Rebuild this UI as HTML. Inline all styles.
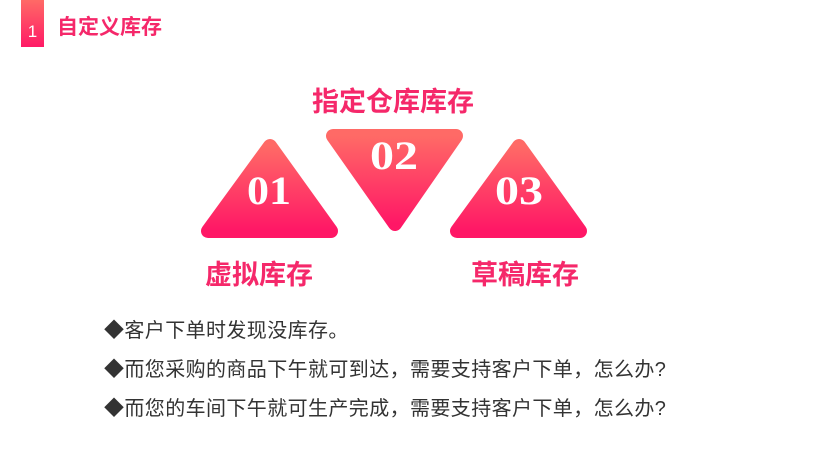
<!DOCTYPE html>
<html><head><meta charset="utf-8"><style>
body{margin:0;width:820px;height:461px;background:#fff;position:relative;overflow:hidden;font-family:"Liberation Sans","Noto Sans CJK SC",sans-serif}
.bar{position:absolute;left:21px;top:0;width:23px;height:47px;background:linear-gradient(#ff6a66,#ff1a66);color:#fff;font-size:17px;text-align:center;line-height:64px}
.t{position:absolute;font-weight:bold;color:#f5286a;white-space:nowrap}
.l{position:absolute;left:104px;font-size:20px;color:#333;white-space:nowrap;line-height:24px;letter-spacing:0.4px}
</style></head><body>
<div class="bar">1</div>
<div class="t" style="left:57px;top:11px;font-size:21px">自定义库存</div>
<div class="t" style="left:312px;top:80px;font-size:27px">指定仓库库存</div>
<div class="t" style="left:205px;top:253px;font-size:27px">虚拟库存</div>
<div class="t" style="left:471px;top:253px;font-size:27px">草稿库存</div>
<svg width="820" height="461" style="position:absolute;left:0;top:0">
<defs><linearGradient id="g" x1="0" y1="0" x2="0" y2="1"><stop offset="0" stop-color="#ff6a66"/><stop offset="1" stop-color="#ff1766"/></linearGradient></defs>
<g fill="url(#g)" stroke="url(#g)" stroke-width="14" stroke-linejoin="round">
<polygon points="270,146 208,231 331,231"/>
<polygon points="333,136 456,136 395,224"/>
<polygon points="519,146 457,231 580,231"/>
</g>
<g fill="#fff" font-family="Liberation Serif,serif" font-weight="bold" font-size="40" text-anchor="middle">
<text x="269" y="204" textLength="44" lengthAdjust="spacingAndGlyphs">01</text>
<text x="394" y="169" textLength="48" lengthAdjust="spacingAndGlyphs">02</text>
<text x="519" y="204" textLength="48" lengthAdjust="spacingAndGlyphs">03</text>
</g>
</svg>
<div class="l" style="top:319px">◆客户下单时发现没库存。</div>
<div class="l" style="top:358px">◆而您采购的商品下午就可到达，需要支持客户下单，怎么办?</div>
<div class="l" style="top:397px">◆而您的车间下午就可生产完成，需要支持客户下单，怎么办?</div>
</body></html>
